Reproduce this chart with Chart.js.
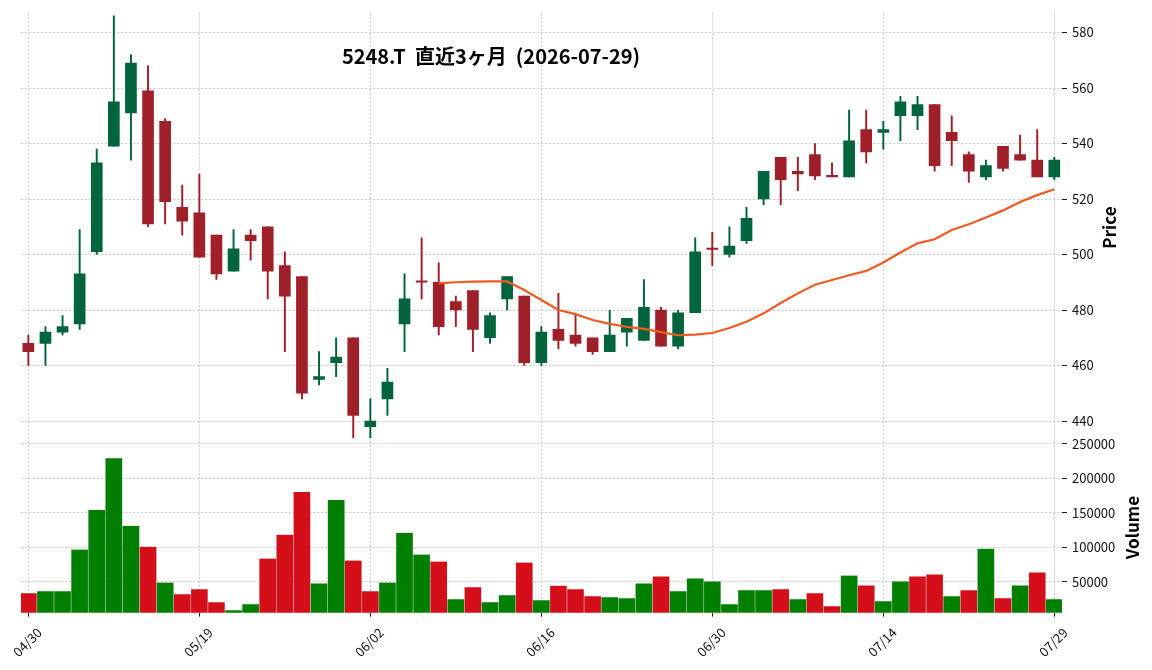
<!DOCTYPE html>
<html>
<head>
<meta charset="utf-8">
<script src="https://cdn.jsdelivr.net/npm/chart.js@4.4.1/dist/chart.umd.min.js"></script>
<style>
  html, body { margin: 0; padding: 0; background: #fff; }
</style>
</head>
<body>
<canvas id="chart" width="1152" height="670"></canvas>
<script>
const dates = [
  '04/30', '05/01', '05/07', '05/08', '05/11', '05/12', '05/13', '05/14', '05/15', '05/18',
  '05/19', '05/20', '05/21', '05/22', '05/25', '05/26', '05/27', '05/28', '05/29', '06/01',
  '06/02', '06/03', '06/04', '06/05', '06/08', '06/09', '06/10', '06/11', '06/12', '06/15',
  '06/16', '06/17', '06/18', '06/19', '06/22', '06/23', '06/24', '06/25', '06/26', '06/29',
  '06/30', '07/01', '07/02', '07/03', '07/06', '07/07', '07/08', '07/09', '07/10', '07/13',
  '07/14', '07/15', '07/16', '07/17', '07/21', '07/22', '07/23', '07/24', '07/27', '07/28',
  '07/29'
];
const opens = [
  468, 468, 472, 475, 501, 539, 551, 559, 548, 517,
  515, 507, 494, 507, 510, 496, 492, 455, 461, 470,
  438, 448, 475, 490.3, 490, 483, 487, 470, 484, 485,
  461, 473, 471, 470, 465, 472, 469, 480, 467, 479,
  502, 500, 505, 520, 535, 530, 536, 528.2, 528, 545,
  544, 550, 550, 554, 544, 536, 528, 539, 536, 534,
  528
];
const highs = [
  471, 474, 478, 509, 538, 586, 572, 568, 549, 525,
  529, 507, 509, 509, 510, 501, 492, 465, 470, 470,
  448, 459, 493, 506, 497, 485, 487, 479, 492, 485,
  474, 486, 478.5, 470, 480, 477, 491, 481, 480, 506,
  508, 510, 517, 530, 535, 535, 540, 533, 552, 552,
  548, 557, 557, 554, 550, 537, 534, 539, 543, 545,
  535
];
const lows = [
  460, 460, 471, 473, 500, 539, 534, 510, 511, 507,
  499, 491, 494, 498, 484, 465, 448, 453, 456, 434,
  434, 442, 465, 484, 471, 474, 465, 468, 480, 460,
  460, 466, 467, 464, 465, 467, 469, 467, 466, 479,
  496, 499, 504, 518, 518, 523, 527, 528, 528, 533,
  538, 541, 545, 530, 532, 526, 527, 530, 534, 528,
  527
];
const closes = [
  465, 472, 474, 493, 533, 555, 569, 511, 519, 512,
  499, 493, 502, 505, 494, 485, 450, 456, 463, 442,
  440, 454, 484, 490, 474, 480, 473, 478, 492, 461,
  472, 469, 468, 465, 471, 477, 481, 467, 479, 501,
  501.8, 503, 513, 530, 527, 529, 528.3, 528, 541, 537,
  545, 555, 554, 532, 541, 530, 532, 531, 534, 528,
  534
];
const volumes = [
  33200, 36100, 36100, 96600, 154100, 229000, 131000, 100900, 49000, 31800,
  39000, 20300, 8800, 17400, 83600, 118200, 180000, 47600, 168500, 80700,
  36100, 49000, 121000, 89400, 79300, 24600, 41900, 20300, 30400, 77900,
  23200, 44300, 39000, 28900, 27500, 26000, 47600, 57700, 36100, 54800,
  50500, 17400, 37600, 37600, 39000, 24600, 33200, 14500, 59100, 44700,
  21700, 50500, 57700, 60600, 28900, 37600, 98000, 26000, 44700, 63500,
  24600
];
// 25-day moving average, first value sits on the 25th session
const maStart = 24;
const ma25 = [
  489.6, 490.0, 490.2, 490.3, 490.3, 487.2, 483.6, 480.0, 478.5, 476.4,
  475.0, 473.9, 473.2, 472.0, 470.9, 471.1, 471.7, 473.5, 475.8, 478.8,
  482.5, 486.0, 489.1, 490.8, 492.5, 494.1, 497.1, 500.7, 504.0, 505.5,
  508.8, 510.9, 513.3, 515.9, 518.9, 521.4, 523.5
];
const priceTicks = [440, 460, 480, 500, 520, 540, 560, 580];
const volumeTicks = [50000, 100000, 150000, 200000, 250000];
const dateTicks = [0, 10, 20, 30, 40, 50, 60];
const titleText = '5248.T  直近3ヶ月  (2026-07-29)';

const UP = '#00643c';
const DOWN = '#a0202a';
const VOL_UP = '#007f00';
const VOL_DOWN = '#d50f1a';
const GRID = '#c4c4c4';
const FONT = '"Noto Sans CJK JP", "Noto Sans", sans-serif';

const candleColors = opens.map((o, i) => (closes[i] >= o ? UP : DOWN));
const volumeColors = closes.map((c, i) => (i > 0 && c >= closes[i - 1] ? VOL_UP : VOL_DOWN));

const texts = {
  id: 'texts',
  afterDraw(chart) {
    const ctx = chart.ctx;
    const py = chart.scales.y;
    const vy = chart.scales.yv;
    ctx.save();
    ctx.fillStyle = '#000';
    ctx.textAlign = 'center';
    ctx.textBaseline = 'middle';
    ctx.font = 'bold 20px ' + FONT;
    ctx.fillText(titleText, 491, 56);
    ctx.font = 'bold 17px ' + FONT;
    [['Price', 1110, (py.top + py.bottom) / 2], ['Volume', 1133, (vy.top + vy.bottom) / 2]].forEach(([t, x, y]) => {
      ctx.save();
      ctx.translate(x, y);
      ctx.rotate(-Math.PI / 2);
      ctx.fillText(t, 0, 0);
      ctx.restore();
    });
    ctx.restore();
  }
};

const yAxis = (ticks, extra) => Object.assign({
  type: 'linear',
  position: 'right',
  stack: 'panels',
  afterBuildTicks: s => { s.ticks = ticks.map(v => ({ value: v })); },
  afterFit: s => { s.width = 90; },
  ticks: { color: '#111', font: { family: FONT, size: 13 }, padding: 5, callback: v => String(v) },
  grid: { color: GRID, lineWidth: 0.8, tickLength: 5, tickColor: '#222', tickWidth: 1, tickBorderDash: [] },
  border: { display: false, dash: [2.5, 1.5] }
}, extra);

new Chart(document.getElementById('chart'), {
  data: {
    datasets: [
      {
        type: 'line',
        label: 'MA25',
        data: ma25.map((v, k) => ({ x: maStart + k, y: v })),
        yAxisID: 'y',
        borderColor: '#f15a22',
        borderWidth: 2.2,
        pointRadius: 0,
        tension: 0
      },
      {
        type: 'bar',
        label: 'wick',
        data: lows.map((l, i) => ({ x: i, y: [l, highs[i]] })),
        yAxisID: 'y',
        backgroundColor: candleColors,
        barThickness: 1.3,
        grouped: false
      },
      {
        type: 'bar',
        label: 'body',
        data: opens.map((o, i) => ({ x: i, y: [o, closes[i]] })),
        yAxisID: 'y',
        backgroundColor: candleColors,
        barThickness: 11,
        minBarLength: 1.5,
        grouped: false
      },
      {
        type: 'bar',
        label: 'Volume',
        data: volumes.map((v, i) => ({ x: i, y: v })),
        yAxisID: 'yv',
        backgroundColor: volumeColors,
        borderColor: 'rgba(0, 0, 0, 0.12)',
        borderWidth: { left: 0.6, right: 0.6, top: 0, bottom: 0 },
        barPercentage: 1,
        categoryPercentage: 1,
        grouped: false
      }
    ]
  },
  options: {
    responsive: false,
    devicePixelRatio: 1,
    animation: false,
    layout: { padding: { left: 21, top: 11.5, right: 0, bottom: 0 } },
    plugins: { legend: { display: false }, tooltip: { enabled: false } },
    scales: {
      x: {
        type: 'linear',
        position: 'bottom',
        offset: false,
        min: -0.43,
        max: 60.45,
        afterBuildTicks: s => { s.ticks = dateTicks.map(v => ({ value: v })); },
        afterFit: s => {
          s.height = 57.3;
          s.paddingLeft = 0;
          s.paddingRight = 0;
        },
        ticks: {
          color: '#111',
          font: { family: FONT, size: 13 },
          maxRotation: 45,
          minRotation: 45,
          autoSkip: false,
          labelOffset: 11,
          padding: 8,
          callback: v => dates[v]
        },
        grid: { offset: false, color: GRID, lineWidth: 0.8, tickLength: 4, tickColor: '#222', tickWidth: 1, tickBorderDash: [] },
        border: { display: false, dash: [2.5, 1.5] }
      },
      y: yAxis(priceTicks, { min: 432.3, max: 587.1, stackWeight: 430.5 }),
      yv: yAxis(volumeTicks, { min: 5200, max: 251900, stackWeight: 170.7 })
    }
  },
  plugins: [texts]
});
</script>
</body>
</html>
